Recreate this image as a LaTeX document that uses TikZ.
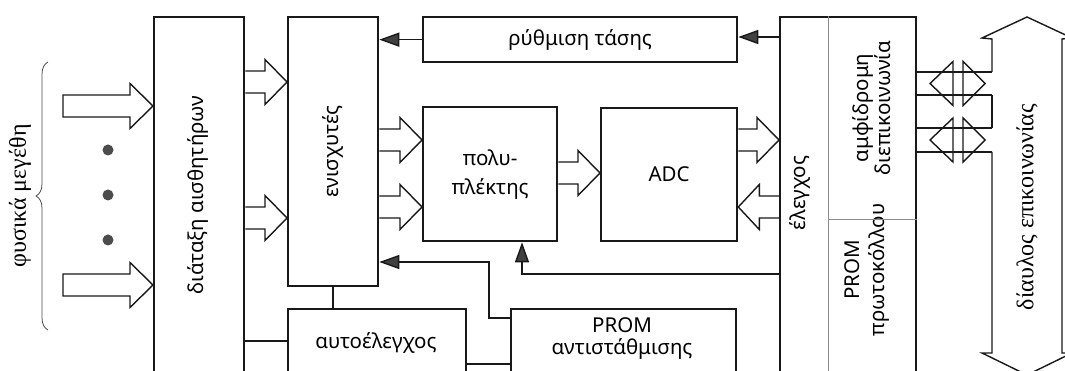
\documentclass[tikz,border=0pt]{standalone}
\usepackage{fontspec}
\setmainfont{Liberation Serif}
\newfontfamily\gsans{Noto Sans}
\usetikzlibrary{calc,arrows.meta,decorations.pathreplacing}
\newcommand{\harrow}[4]{% from, to, y, signed head length
  \draw[hol] let \p1=(#1), \p2=(#2), \p3=(0,#3) in
    (\x1,\y3+11pt) -- ({\x2-(#4pt)},\y3+11pt) -- ({\x2-(#4pt)},\y3+22.5pt) -- (\x2,\y3)
    -- ({\x2-(#4pt)},\y3-22.5pt) -- ({\x2-(#4pt)},\y3-11pt) -- (\x1,\y3-11pt);}
\newcommand{\harrowc}[4]{% closed tail
  \draw[hol] let \p1=(#1), \p2=(#2), \p3=(0,#3) in
    (\x1,\y3+11pt) -- ({\x2-(#4pt)},\y3+11pt) -- ({\x2-(#4pt)},\y3+22.5pt) -- (\x2,\y3)
    -- ({\x2-(#4pt)},\y3-22.5pt) -- ({\x2-(#4pt)},\y3-11pt) -- (\x1,\y3-11pt) -- cycle;}
\begin{document}
\begin{tikzpicture}[x=1pt,y=-1pt,
  box/.style={draw=black!90, line width=2.3pt, inner sep=0pt, anchor=north west,
    font=\gsans\fontsize{20.5}{24}\selectfont, align=center},
  lbl/.style={font=\gsans\fontsize{20.5}{24}\selectfont, align=center, inner sep=0pt},
  rlbl/.style={lbl, rotate=90},
  slbl/.style={font=\fontsize{24}{28}\selectfont, inner sep=0pt, rotate=90},
  conn/.style={line width=1.4pt, draw=black!90},
  tri/.style={conn, -{Triangle[length=20pt,width=14pt, fill=black!75]}},
  hol/.style={line width=1.4pt, line join=miter, draw=black!90},
  divider/.style={draw=black!45, line width=0.9pt},
]
\clip (0,0) rectangle (1065,371);
\fill[white] (0,0) rectangle (1065,371);

% boxes
\node[box, minimum width=90pt, minimum height=400pt] (sens) at (153,16) {};
\node[box, minimum width=90pt, minimum height=269pt] (amp) at (287,16) {\rotatebox{90}{ενισχυτές}};
\node[box, minimum width=314pt, minimum height=45pt] (reg) at (422,16) {ρύθμιση τάσης};
\node[box, minimum width=134pt, minimum height=134pt, font=\gsans\fontsize{20.5}{29}\selectfont] (mux) at (422,106) {πολυ-\\πλέκτης};
\node[box, minimum width=136pt, minimum height=133pt] (adc) at (600,107) {ADC};
\node[box, minimum width=136pt, minimum height=400pt] (ctrl) at (779,16) {};
\node[box, minimum width=178pt, minimum height=100pt] (auto) at (287,308) {};
\node[box, minimum width=225pt, minimum height=100pt] (prom) at (510,308) {};

% labels in open-bottom boxes
\node[rlbl] (senslbl) at (198,195) {διάταξη αισθητήρων};
\node[rlbl] (ctrllbl) at (800,193) {έλεγχος};
\node[rlbl, font=\gsans\fontsize{20.5}{22}\selectfont] (amfilbl) at (872,108) {αμφίδρομη\\διεπικοινωνία};
\node[rlbl, font=\gsans\fontsize{20.5}{25}\selectfont] (protlbl) at (867,270) {PROM\\πρωτοκόλλου};
\node[lbl] (autolbl) at (376,343) {αυτοέλεγχος};
\node[lbl, font=\gsans\fontsize{20.5}{22}\selectfont] (promlbl) at (622,339) {PROM\\αντιστάθμισης};

% dividers in control box
\draw[divider] ($(ctrl.north west)+(49,0)$) coordinate (dv) -- (dv |- 0,400);
\draw[divider] (dv |- 0,219) -- (ctrl.east |- 0,219);

% input side
\draw[decorate, decoration={brace, amplitude=12pt}, line width=0.8pt, black!70] (48,330) -- (48,62);
\node[slbl] (phys) at (20,196) {φυσικά μεγέθη};
\coordinate (inA) at (63,106);
\coordinate (inB) at (63,285);
\harrowc{inA}{sens.west}{106}{23}
\harrowc{inB}{sens.west}{285}{23}
\foreach \yy/\nm in {150/d1,195/d2,240/d3}
  \fill[black!70] (108,\yy) circle (5.5pt) coordinate (\nm);

% hollow bus arrows
\harrow{sens.east}{amp.west}{82}{22}
\harrow{sens.east}{amp.west}{218}{22}
\harrow{amp.east}{mux.west}{140}{22}
\harrow{amp.east}{mux.west}{207}{22}
\harrow{mux.east}{adc.west}{173}{22}
\harrow{adc.east}{ctrl.west}{140}{22}
\harrow{ctrl.west}{adc.east}{207}{-21}

% thin connectors
\draw[tri] (reg.west) -- (amp.east |- reg.west);
\draw[tri] (ctrl.west |- 0,37) -- (reg.east |- 0,37);
\draw[tri] (prom.west |- 0,318) -- ++(-21,0) |- (amp.east |- 0,262);
\draw[tri] (ctrl.west |- 0,274) -| ($(mux.south west)+(100,0)$);
\draw[conn] (amp.south) -- (amp.south |- auto.north);
\draw[conn] (sens.east |- 0,341) -- (auto.west |- 0,341);
\draw[conn] (auto.east |- 0,364) -- (prom.west |- 0,364);

% communication bus
\coordinate (busL) at (992,0);
\draw[hol] (992,72) -- (992,39) -- (982,38) -- (1027,17) -- (1072,38) -- (1062,39)
  -- (1062,353) -- (1072,353) -- (1027,375) -- (982,353) -- (992,353) -- (992,152);
\draw[hol] (992,95) -- (992,128);
\node[slbl] (buslbl) at (1027,207) {δίαυλος επικοινωνίας};

% bidirectional links control <-> bus
\foreach \ya/\yb in {72/95,128/152}{
  \draw[hol] (ctrl.east |- 0,\ya) -- (busL |- 0,\ya);
  \draw[hol] (ctrl.east |- 0,\yb) -- (busL |- 0,\yb);
}
\foreach \yc in {83.5,140}{
  \draw[hol] (953,\yc-22) -- (930,\yc) -- (953,\yc+22) -- cycle;
  \draw[hol] (963,\yc-22) -- (985,\yc) -- (963,\yc+22) -- cycle;
}
\end{tikzpicture}
\end{document}
